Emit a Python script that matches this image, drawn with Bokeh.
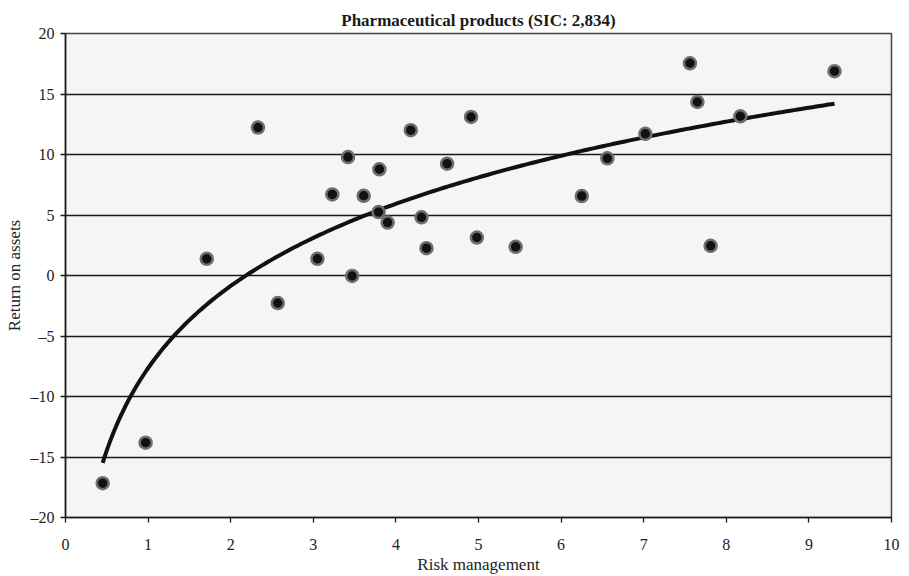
import numpy as np
from bokeh.plotting import figure
from bokeh.models import Range1d, FixedTicker, ColumnDataSource
from bokeh.embed import file_html
from bokeh.resources import INLINE

# Scatter data
risk_management = [0.45, 0.97, 1.71, 2.33, 2.57, 3.05, 3.23, 3.42, 3.47, 3.61,
                   3.79, 3.80, 3.90, 4.18, 4.31, 4.37, 4.62, 4.91, 4.98, 5.45,
                   6.25, 6.56, 7.02, 7.56, 7.65, 7.81, 8.17, 9.31]
return_on_assets = [-17.16, -13.82, 1.38, 12.23, -2.28, 1.38, 6.70, 9.79, -0.04, 6.59,
                    5.24, 8.78, 4.37, 12.01, 4.81, 2.26, 9.24, 13.10, 3.14, 2.37,
                    6.56, 9.68, 11.71, 17.54, 14.34, 2.45, 13.16, 16.89]
x_ticks = [0, 1, 2, 3, 4, 5, 6, 7, 8, 9, 10]
y_ticks = [-20, -15, -10, -5, 0, 5, 10, 15, 20]
y_tick_labels = {-20: "\u201320", -15: "\u201315", -10: "\u201310", -5: "\u20135",
                 0: "0", 5: "5", 10: "10", 15: "15", 20: "20"}

# Logarithmic trend line fitted to the data (least squares on ln x)
xa = np.array(risk_management)
ya = np.array(return_on_assets)
b, a = np.polyfit(np.log(xa), ya, 1)
trend_x = np.linspace(xa.min(), xa.max(), 200)
trend_y = a + b * np.log(trend_x)

SERIF = "Liberation Serif"

p = figure(width=909, height=576, output_backend="svg", toolbar_location=None,
           x_range=Range1d(0, 10), y_range=Range1d(-20, 20),
           title="Pharmaceutical products (SIC: 2,834)",
           min_border_left=65, min_border_right=18, min_border_top=33,
           min_border_bottom=56)

p.title.align = "center"
p.title.text_font = SERIF
p.title.text_font_size = "17px"
p.title.text_font_style = "bold"
p.title.text_color = "#1a1a1a"
p.title.offset = 0
p.title.standoff = 8

p.background_fill_color = "#f5f5f5"
p.border_fill_color = "white"
p.outline_line_color = "#444444"
p.outline_line_width = 1.5

p.xgrid.visible = False
p.ygrid.ticker = FixedTicker(ticks=y_ticks)
p.ygrid.grid_line_color = "#1a1a1a"
p.ygrid.grid_line_width = 1.3

p.xaxis.ticker = FixedTicker(ticks=x_ticks)
p.yaxis.ticker = FixedTicker(ticks=y_ticks)
p.yaxis.major_label_overrides = y_tick_labels

for ax in (p.xaxis[0], p.yaxis[0]):
    ax.axis_line_color = "#1a1a1a"
    ax.axis_line_width = 1.5
    ax.major_tick_line_color = "#1a1a1a"
    ax.major_tick_line_width = 1.3
    ax.major_tick_in = 0
    ax.major_tick_out = 5
    ax.minor_tick_line_color = None
    ax.major_label_text_font = SERIF
    ax.major_label_text_font_size = "16px"
    ax.major_label_text_color = "#222222"
    ax.axis_label_text_font = SERIF
    ax.axis_label_text_font_size = "17px"
    ax.axis_label_text_font_style = "normal"
    ax.axis_label_text_color = "#222222"

p.xaxis.axis_label = "Risk management"
p.yaxis.axis_label = "Return on assets"
p.xaxis.major_label_standoff = 16
p.xaxis.axis_label_standoff = 2
p.yaxis.major_label_standoff = 6
p.yaxis.axis_label_standoff = 4

src = ColumnDataSource(data=dict(x=risk_management, y=return_on_assets))
p.line(trend_x, trend_y, line_color="#111111", line_width=4)
p.scatter("x", "y", source=src, size=12, fill_color="#111111",
          line_color="#6e6e6e", line_width=2.5)

open("out.html", "w").write(file_html(p, INLINE))
